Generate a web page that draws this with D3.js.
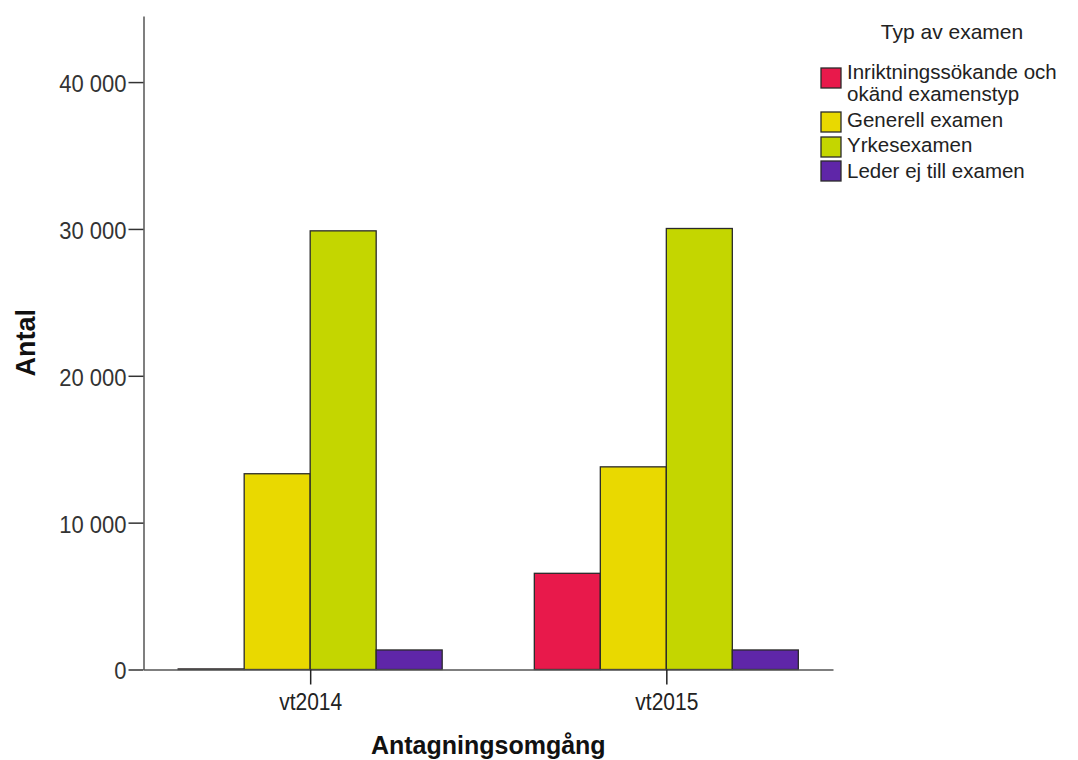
<!DOCTYPE html>
<html>
<head>
<meta charset="utf-8">
<script src="https://cdn.jsdelivr.net/npm/d3@7"></script>
<style>
  html, body { margin: 0; padding: 0; background: #fff; }
  svg { display: block; }
  text { font-family: "Liberation Sans", Arial, sans-serif; }
</style>
</head>
<body>
<svg id="chart" width="1078" height="760"></svg>
<script>
// ---- data ----
const categories = ["vt2014", "vt2015"];
const seriesNames = [
  "Inriktningssökande och\nokänd examenstyp",
  "Generell examen",
  "Yrkesexamen",
  "Leder ej till examen"
];
const seriesColors = ["#e8194b", "#e9d900", "#c4d600", "#5f26a8"];
const inriktningValues = [40, 6550];
const generellValues = [13330, 13800];
const yrkesValues = [29870, 30030];
const lederValues = [1330, 1330];
const yTickValues = [0, 10000, 20000, 30000, 40000];

const seriesValues = [inriktningValues, generellValues, yrkesValues, lederValues];

// ---- layout ----
const svg = d3.select("#chart");
const x0 = 143.5, x1 = 833, yBottom = 669.5, yTop = 16;

const x = d3.scalePoint().domain(categories).range([x0, x1]).padding(0.468);
const xs = d3.scaleBand().domain(d3.range(seriesNames.length)).range([-132, 132]).padding(0);
const y = d3.scaleLinear().domain([0, 44500]).range([yBottom, yTop]);

const fmt = v => d3.format(",")(v).replace(/,/g, " ");

// bars
const rows = [];
categories.forEach((c, ci) => {
  seriesValues.forEach((vals, si) => rows.push({ c, si, v: vals[ci] }));
});
svg.append("g").selectAll("rect").data(rows).join("rect")
  .attr("x", d => x(d.c) + xs(d.si))
  .attr("width", xs.bandwidth())
  .attr("y", d => y(d.v))
  .attr("height", d => yBottom - y(d.v))
  .attr("fill", d => seriesColors[d.si])
  .attr("stroke", "#2a2a2a")
  .attr("stroke-width", 1.3);

// y axis
const yAxis = svg.append("g")
  .attr("transform", `translate(${x0},0)`)
  .call(d3.axisLeft(y).tickValues(yTickValues).tickFormat(fmt).tickSize(15).tickSizeOuter(0).tickPadding(2));
yAxis.select(".domain").attr("stroke", "#555").attr("stroke-width", 1.5);
yAxis.selectAll(".tick line").attr("stroke", "#333").attr("stroke-width", 1.5);
yAxis.selectAll(".tick text")
  .attr("font-size", 22).attr("fill", "#333")
  .attr("font-family", "'Liberation Sans', Arial, sans-serif")
  .attr("dy", "0.38em")
  .attr("transform", "scale(1,1.12)");

// x axis
const xAxis = svg.append("g")
  .attr("transform", `translate(0,${yBottom})`)
  .call(d3.axisBottom(x).tickSize(15).tickSizeOuter(0).tickPadding(6));
xAxis.select(".domain").attr("stroke", "#555").attr("stroke-width", 1.5);
xAxis.selectAll(".tick line").attr("stroke", "#222").attr("stroke-width", 1.5);
xAxis.selectAll(".tick text")
  .attr("font-size", 21).attr("fill", "#222")
  .attr("font-family", "'Liberation Sans', Arial, sans-serif")
  .attr("transform", "scale(1,1.12)");

// axis titles
svg.append("text")
  .attr("transform", `translate(${(x0 + x1) / 2},754)`)
  .attr("text-anchor", "middle")
  .attr("font-family", "'DejaVu Sans', Verdana, sans-serif")
  .attr("font-weight", "bold")
  .attr("font-size", 25)
  .attr("fill", "#111")
  .text("Antagningsomgång");

svg.append("text")
  .attr("transform", `translate(35,${(yTop + yBottom) / 2}) rotate(-90)`)
  .attr("text-anchor", "middle")
  .attr("font-weight", "bold")
  .attr("font-size", 27)
  .attr("fill", "#111")
  .text("Antal");

// legend
const lg = svg.append("g");
lg.append("text")
  .attr("x", 952).attr("y", 39)
  .attr("text-anchor", "middle")
  .attr("font-size", 21).attr("fill", "#222")
  .text("Typ av examen");

const itemBaselines = [79, 127, 152, 178];
const swatchTops = [68, 112, 137, 161];
seriesNames.forEach((name, i) => {
  lg.append("rect")
    .attr("x", 821).attr("y", swatchTops[i])
    .attr("width", 20).attr("height", 20)
    .attr("fill", seriesColors[i])
    .attr("stroke", "#2a2a2a").attr("stroke-width", 1.3);
  const t = lg.append("text")
    .attr("x", 847).attr("y", itemBaselines[i])
    .attr("font-size", 20.5).attr("fill", "#222");
  name.split("\n").forEach((line, li) => {
    t.append("tspan").attr("x", 847).attr("dy", li === 0 ? 0 : 21.5).text(line);
  });
});
</script>
</body>
</html>
